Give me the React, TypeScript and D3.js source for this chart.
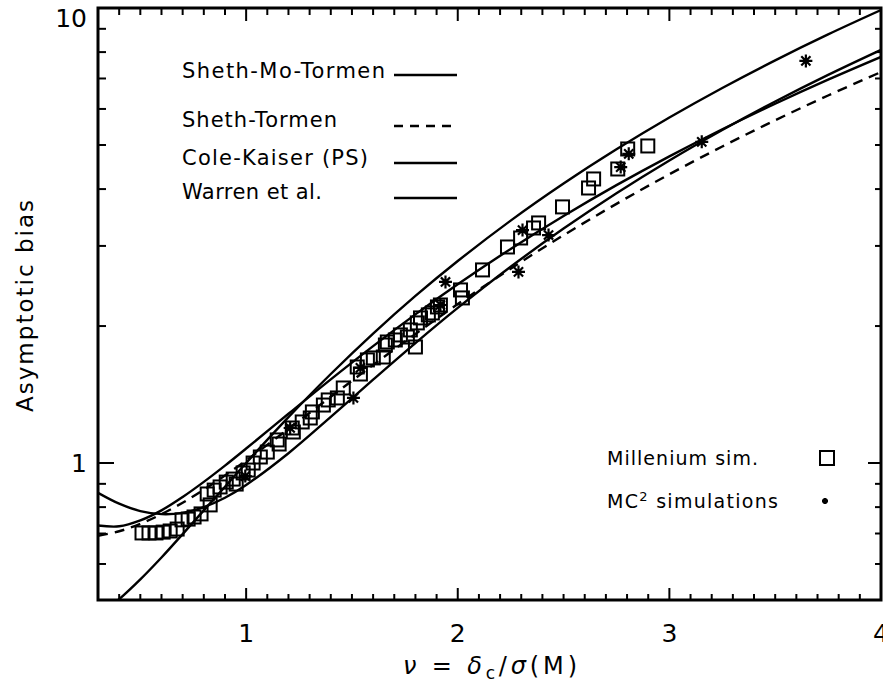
import React from 'react';
import * as d3 from 'd3';

// Peak height grid on which the model bias curves are tabulated
const NU_GRID = [0.3, 0.4, 0.5, 0.6, 0.7, 0.8, 0.9, 1.0, 1.2, 1.4, 1.6, 1.8, 2.0, 2.25, 2.5, 2.75, 3.0, 3.25, 3.5, 3.75, 4.0];

// Model bias curves b(nu)
const SHETH_MO_TORMEN = [0.729, 0.726, 0.748, 0.787, 0.842, 0.909, 0.987, 1.076, 1.283, 1.527, 1.807, 2.122, 2.471, 2.955, 3.491, 4.080, 4.721, 5.415, 6.161, 6.959, 7.809];
const SHETH_TORMEN = [0.692, 0.708, 0.735, 0.772, 0.818, 0.874, 0.939, 1.013, 1.188, 1.398, 1.643, 1.921, 2.235, 2.674, 3.167, 3.712, 4.311, 4.962, 5.666, 6.423, 7.232];
const COLE_KAISER = [0.460, 0.502, 0.555, 0.620, 0.698, 0.787, 0.887, 1.0, 1.261, 1.569, 1.925, 2.329, 2.779, 3.410, 4.114, 4.892, 5.745, 6.672, 7.673, 8.748, 9.897];
const WARREN = [0.860, 0.814, 0.784, 0.772, 0.777, 0.800, 0.839, 0.895, 1.051, 1.263, 1.525, 1.835, 2.192, 2.700, 3.275, 3.917, 4.624, 5.395, 6.231, 7.130, 8.093];

// Millennium simulation measurements
const MILLENNIUM_NU = [0.508, 0.541, 0.574, 0.608, 0.641, 0.674, 0.697, 0.726, 0.754, 0.787, 0.816, 0.830, 0.849, 0.877, 0.906, 0.939, 0.953, 0.986, 1.010, 1.033, 1.067, 1.100, 1.147, 1.156, 1.218, 1.223, 1.265, 1.303, 1.313, 1.365, 1.388, 1.431, 1.459, 1.525, 1.540, 1.573, 1.601, 1.648, 1.658, 1.667, 1.705, 1.729, 1.762, 1.800, 1.776, 1.809, 1.824, 1.861, 1.880, 1.904, 1.918, 2.013, 2.022, 2.117, 2.235, 2.297, 2.358, 2.382, 2.495, 2.618, 2.642, 2.756, 2.803, 2.898];
const MILLENNIUM_BIAS = [0.702, 0.702, 0.702, 0.705, 0.709, 0.716, 0.750, 0.753, 0.761, 0.773, 0.855, 0.809, 0.872, 0.886, 0.908, 0.922, 0.899, 0.951, 0.965, 1.000, 1.031, 1.057, 1.124, 1.101, 1.194, 1.170, 1.231, 1.256, 1.295, 1.341, 1.376, 1.390, 1.462, 1.626, 1.569, 1.685, 1.702, 1.710, 1.817, 1.845, 1.864, 1.912, 1.892, 1.799, 1.961, 2.032, 2.084, 2.116, 2.137, 2.203, 2.225, 2.401, 2.306, 2.657, 2.984, 3.123, 3.285, 3.370, 3.655, 4.022, 4.210, 4.428, 4.900, 4.975];

// MC^2 simulation measurements
const MC2_NU = [0.996, 1.208, 1.507, 1.540, 1.918, 1.942, 2.287, 2.306, 2.429, 2.770, 2.808, 3.153, 3.645];
const MC2_BIAS = [0.936, 1.194, 1.390, 1.618, 2.225, 2.500, 2.630, 3.250, 3.170, 4.470, 4.780, 5.080, 7.650];

// Axis ticks
const X_MAJOR = [1, 2, 3, 4];
const X_LABELS = ['1', '2', '3', '4'];
const Y_MAJOR = [1, 10];
const Y_LABELS = ['1', '10'];
const Y_MINOR = [0.6, 0.7, 0.8, 0.9, 2, 3, 4, 5, 6, 7, 8, 9];

// Curve legend
const CURVE_NAMES = ['Sheth-Mo-Tormen', 'Sheth-Tormen', 'Cole-Kaiser (PS)', 'Warren et al.'];

const W = 883;
const H = 684;
const FONT = '"DejaVu Sans", sans-serif';

const x = d3.scaleLinear().domain([0.3, 4]).range([98, 881]);
const y = d3.scaleLog().domain([0.5, 10]).range([600, 8]);

const line = d3
  .line<[number, number]>()
  .x((d) => x(d[0]))
  .y((d) => y(d[1]))
  .curve(d3.curveCatmullRom.alpha(0.5));

function asterisk(r: number): string {
  const a = r * 0.7071;
  return `M${-r},0L${r},0M0,${-r}L0,${r}M${-a},${-a}L${a},${a}M${-a},${a}L${a},${-a}`;
}

export default function App() {
  const [x0, x1] = x.range();
  const [y0, y1] = y.range();
  const xMinor = d3.range(0.4, 3.95, 0.1).map((v) => Math.round(v * 10) / 10).filter((v) => !X_MAJOR.includes(v));

  const curves = [
    { vals: SHETH_MO_TORMEN, dash: undefined },
    { vals: SHETH_TORMEN, dash: '10,7' },
    { vals: COLE_KAISER, dash: undefined },
    { vals: WARREN, dash: undefined },
  ];

  const legendRows = [
    { y: 78, lineY: 75, len: 203, dash: undefined },
    { y: 127, lineY: 126, len: 155, dash: '9,7' },
    { y: 165, lineY: 163, len: 186, dash: undefined },
    { y: 199, lineY: 198, len: 140, dash: undefined },
  ];

  return (
    <svg
      width={W}
      height={H}
      style={{ position: 'absolute', left: 0, top: 0, background: '#fff' }}
      fontFamily={FONT}
    >
      <rect x={0} y={0} width={W} height={H} fill="#fff" />
      <defs>
        <clipPath id="plot-area">
          <rect x={x0} y={y1} width={x1 - x0} height={y0 - y1} />
        </clipPath>
      </defs>

      {/* model curves */}
      <g clipPath="url(#plot-area)" fill="none" stroke="#000" strokeWidth={2.4}>
        {curves.map((c, i) => (
          <path
            key={i}
            d={line(NU_GRID.map((n, j) => [n, c.vals[j]] as [number, number])) || ''}
            strokeDasharray={c.dash}
          />
        ))}
      </g>

      {/* Millennium points */}
      <g fill="none" stroke="#000" strokeWidth={2}>
        {MILLENNIUM_NU.map((n, i) => (
          <rect key={i} x={x(n) - 6.5} y={y(MILLENNIUM_BIAS[i]) - 6.5} width={13} height={13} />
        ))}
      </g>

      {/* MC2 points */}
      <g fill="none" stroke="#000" strokeWidth={2.2}>
        {MC2_NU.map((n, i) => (
          <path key={i} transform={`translate(${x(n)},${y(MC2_BIAS[i])})`} d={asterisk(6.5)} />
        ))}
      </g>

      {/* frame */}
      <rect x={x0} y={y1} width={x1 - x0} height={y0 - y1} fill="none" stroke="#000" strokeWidth={3} />

      {/* x ticks bottom and top */}
      <g stroke="#000" strokeWidth={2}>
        {xMinor.map((v) => (
          <g key={`xm${v}`}>
            <line x1={x(v)} x2={x(v)} y1={y0} y2={y0 - 6} />
            <line x1={x(v)} x2={x(v)} y1={y1} y2={y1 + 7} />
          </g>
        ))}
        {X_MAJOR.map((v) => (
          <g key={`xM${v}`}>
            <line x1={x(v)} x2={x(v)} y1={y0} y2={y0 - 12} />
            <line x1={x(v)} x2={x(v)} y1={y1} y2={y1 + 13} />
          </g>
        ))}
        {Y_MINOR.map((v) => (
          <g key={`ym${v}`}>
            <line x1={x0} x2={x0 + 8} y1={y(v)} y2={y(v)} />
            <line x1={x1} x2={x1 - 6} y1={y(v)} y2={y(v)} />
          </g>
        ))}
        {Y_MAJOR.map((v) => (
          <g key={`yM${v}`}>
            <line x1={x0} x2={x0 + 16} y1={y(v)} y2={y(v)} />
            <line x1={x1} x2={x1 - 13} y1={y(v)} y2={y(v)} />
          </g>
        ))}
      </g>

      {/* tick labels */}
      <g fontSize={25} fill="#000">
        {X_MAJOR.map((v, i) => (
          <text key={`xl${v}`} x={x(v)} y={642} textAnchor="middle">
            {X_LABELS[i]}
          </text>
        ))}
        {Y_MAJOR.map((v, i) => (
          <text key={`yl${v}`} x={87} y={Math.max(y(v), 18) + 9} textAnchor="end">
            {Y_LABELS[i]}
          </text>
        ))}
      </g>

      {/* axis titles */}
      <text x={490} y={674} textAnchor="middle" fontSize={24} textLength={174} lengthAdjust="spacing">
        <tspan fontStyle="italic">ν</tspan>
        <tspan> = </tspan>
        <tspan fontStyle="italic">δ</tspan>
        <tspan fontSize={17} dy={5}>c</tspan>
        <tspan dy={-5}>/</tspan>
        <tspan fontStyle="italic">σ</tspan>
        <tspan>(M)</tspan>
      </text>
      <text
        transform="translate(33,306) rotate(-90)"
        textAnchor="middle"
        fontSize={23}
        textLength={212}
        lengthAdjust="spacing"
      >
        Asymptotic bias
      </text>

      {/* curve legend */}
      <g fontSize={21}>
        {legendRows.map((r, i) => (
          <g key={i}>
            <text x={182} y={r.y} textLength={r.len} lengthAdjust="spacing">
              {CURVE_NAMES[i]}
            </text>
            <line x1={394} x2={457} y1={r.lineY} y2={r.lineY} stroke="#000" strokeWidth={2.4} strokeDasharray={r.dash} />
          </g>
        ))}
      </g>

      {/* symbol legend */}
      <g fontSize={19}>
        <text x={607} y={465} textLength={151} lengthAdjust="spacing">
          Millenium sim.
        </text>
        <rect x={820} y={451} width={14} height={14} fill="none" stroke="#000" strokeWidth={2} />
        <text x={607} y={508} textLength={171} lengthAdjust="spacing">
          MC<tspan fontSize={13} dy={-7}>2</tspan>
          <tspan dy={7}> simulations</tspan>
        </text>
        <path transform="translate(825,501)" d={asterisk(3)} stroke="#000" strokeWidth={2} fill="none" />
      </g>
    </svg>
  );
}
